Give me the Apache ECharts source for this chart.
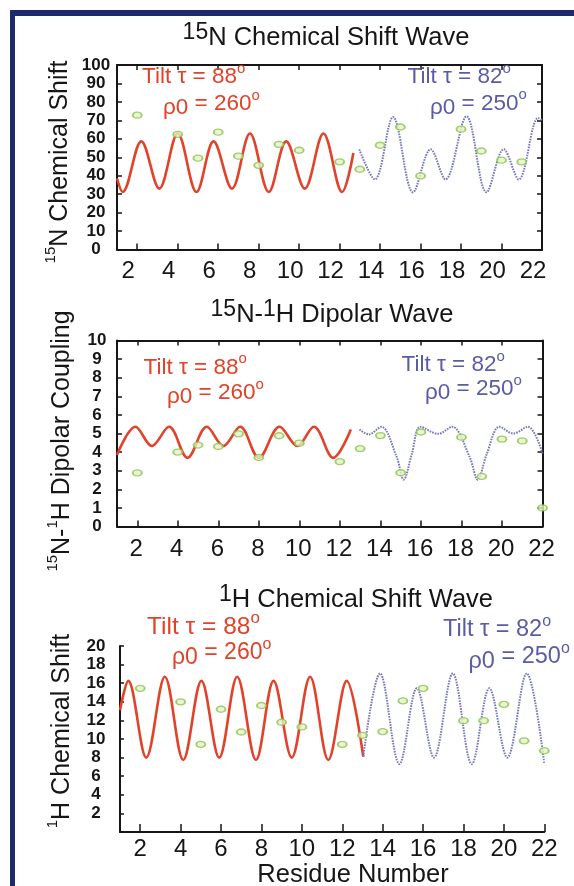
<!DOCTYPE html>
<html><head><meta charset="utf-8">
<script src="https://cdn.jsdelivr.net/npm/echarts@6/dist/echarts.min.js"></script>
<style>html,body{margin:0;padding:0;background:#fff}#c{width:574px;height:886px}</style>
</head><body><div id="c"></div>
<script>
// ---------- data ----------
const residueTicks = [2, 4, 6, 8, 10, 12, 14, 16, 18, 20, 22];
const h1Ticks = [2, 4, 6, 8, 10, 12, 14, 16, 18, 20];

// 15N chemical shift
const n15Observed = [[2,72.8],[4,62.4],[5,49.5],[6,63.6],[7,50.6],[8,45.6],[9,57],[10,53.8],[12,47.5],[13,43.5],[14,56.5],[15,66.4],[16,39.9],[18,65.2],[19,53.4],[20,48.4],[21,47.5]];
const n15WaveTilt88 = [[1,38.6],[1.28,31.2],[2.2,58.6],[3.09,33],[4.0,62.9],[4.93,31.2],[5.77,58.6],[6.68,33],[7.57,62.9],[8.5,31.2],[9.36,58.6],[10.28,33],[11.2,62.9],[12.12,31.2],[12.68,52.3]];
const n15WaveTilt82 = [[12.97,54.3],[13.74,38],[14.64,71.8],[15.63,31],[16.5,54.3],[17.23,38],[18.27,72.2],[19.26,31],[20.11,54.3],[20.85,38],[21.81,71.3],[22,70.2]];

// 15N-1H dipolar coupling
const dcObserved = [[2,2.88],[4,4.0],[5,4.38],[6,4.3],[7,4.98],[8,3.71],[9,4.88],[10,4.48],[12,3.49],[13,4.19],[14,4.89],[15,2.89],[16,5.08],[18,4.8],[19,2.69],[20,4.7],[21,4.6],[22,1.0]];
const dcWaveTilt88 = [[1,3.85],[1.91,5.36],[2.72,4.33],[3.57,5.36],[4.48,3.69],[5.43,5.36],[6.25,4.33],[7.08,5.36],[8.0,3.69],[9.02,5.36],[9.9,4.33],[10.72,5.36],[11.67,3.69],[12.54,5.22]];
const dcWaveTilt82 = [[12.97,5.22],[13.43,4.95],[14.04,5.36],[14.8,3.75],[15.15,2.52],[15.55,3.9],[15.98,5.36],[16.85,4.98],[17.54,5.36],[18.4,3.75],[18.8,2.52],[19.25,3.9],[19.88,5.36],[20.56,5.0],[21.28,5.36],[22,3.92]];

// 1H chemical shift
const h1Observed = [[2,15.45],[4,14.0],[5,9.43],[6,13.2],[7,10.75],[8,13.6],[9,11.8],[10,11.3],[12,9.43],[13,10.4],[14,10.8],[15,14.1],[16,15.45],[18,11.97],[19,11.97],[20,13.73],[21,9.8],[22,8.74]];
const h1WaveTilt88 = [[1,13.1],[1.41,16.25],[2.3,8.0],[3.22,16.7],[4.13,7.75],[5.03,16.25],[5.91,8.0],[6.8,16.7],[7.73,7.75],[8.6,16.25],[9.5,8.0],[10.41,16.7],[11.31,7.75],[12.22,16.25],[13.04,8.1]];
const h1WaveTilt82 = [[13.04,8.1],[13.87,17.05],[14.83,7.3],[15.69,15.45],[16.54,8.0],[17.47,17.05],[18.41,7.3],[19.28,15.45],[20.17,8.0],[21.13,17.05],[22,7.3]];

// ---------- styling ----------
const FONT = "'Liberation Sans', Arial, Helvetica, sans-serif";
const INK = '#161616';
const RED = '#e2412a';
const BLUE_TXT = '#5a5da6';
const BLUE_LINE = '#7678bb';
const GREEN = '#8fc24a';
const GREEN_FILL = '#e4f1cc';

function xAx(grid, pos, opts) {
  return Object.assign({
    gridIndex: grid, type: 'value', min: 1, max: 22, position: pos,
    axisLine: { show: true, onZero: false, lineStyle: { color: INK, width: 2 } },
    axisTick: { show: true, inside: true, length: 6, customValues: residueTicks, lineStyle: { color: INK, width: 1.5 } },
    axisLabel: { show: false },
    splitLine: { show: false }
  }, opts);
}
function yAx(grid, pos, min, max, interval, opts) {
  return Object.assign({
    gridIndex: grid, type: 'value', min: min, max: max, interval: interval, position: pos,
    axisLine: { show: true, onZero: false, lineStyle: { color: INK, width: 2 } },
    axisTick: { show: true, inside: true, length: 5, lineStyle: { color: INK, width: 1.5 } },
    axisLabel: { show: false },
    splitLine: { show: false }
  }, opts);
}
const xLab = (margin, pad) => ({ show: true, customValues: residueTicks, margin: margin, fontSize: 24, color: INK, fontFamily: FONT, padding: pad });
const yLab = (margin) => ({ show: true, margin: margin, align: 'center', fontSize: 17, fontWeight: 'bold', color: INK, fontFamily: FONT });

function wave(xi, yi, data, color, dotted) {
  return {
    type: 'line', xAxisIndex: xi, yAxisIndex: yi, data: data, smooth: 0.35, showSymbol: false, symbol: 'none',
    lineStyle: dotted ? { color: color, width: 2, type: [1.6, 1.1] } : { color: color, width: 2.6 },
    clip: true, z: 2
  };
}
function obs(xi, yi, data) {
  return {
    type: 'scatter', xAxisIndex: xi, yAxisIndex: yi, data: data, symbol: 'circle', symbolSize: [9, 6],
    itemStyle: { color: GREEN_FILL, borderColor: GREEN, borderWidth: 1.6 }, clip: false, z: 3
  };
}

function richSet(size, color) {
  return {
    m: { fontSize: size, lineHeight: size + 9, fontFamily: FONT, fill: color, verticalAlign: 'middle' },
    s: { fontSize: Math.round(size * 0.68), lineHeight: Math.round(size * 0.68), fontFamily: FONT, fill: color, verticalAlign: 'top' },
    d: { fontSize: size, lineHeight: size - 5, fontFamily: FONT, fill: color, verticalAlign: 'bottom' }
  };
}
function txt(x, y, text, size, color, align, rotation, supScale) {
  const r = richSet(size, color);
  if (supScale) { const f = Math.round(size * supScale); r.s.fontSize = f; r.s.lineHeight = f + 4; }
  return {
    type: 'text', x: x, y: y, rotation: rotation || 0, z: 10,
    style: { text: text, align: align, verticalAlign: 'middle', fontSize: size, fontFamily: FONT, fill: color, rich: r }
  };
}

const option = {
  animation: false,
  backgroundColor: '#ffffff',
  grid: [
    { left: 117, top: 65, width: 425, height: 184.5 },
    { left: 117, top: 340.5, width: 425.5, height: 186 },
    { left: 120, top: 646, width: 424.3, height: 186 }
  ],
  xAxis: [
    xAx(0, 'bottom', { axisLabel: xLab(10, [0, 18, 0, 0]) }),
    xAx(0, 'top', { axisTick: { show: true, inside: true, length: 5, customValues: residueTicks, lineStyle: { color: INK, width: 1.5 } } }),
    xAx(1, 'bottom', { axisLabel: xLab(11, [0, 2, 0, 0]) }),
    xAx(1, 'top', { axisTick: { show: true, inside: true, length: 5, customValues: residueTicks, lineStyle: { color: INK, width: 1.5 } } }),
    xAx(2, 'bottom', { axisLabel: xLab(5, [0, 0, 0, 0]), axisTick: { show: true, inside: true, length: 8, customValues: residueTicks, lineStyle: { color: INK, width: 1.5 } } })
  ],
  yAxis: [
    yAx(0, 'left', 0, 100, 10, { axisLabel: yLab(21) }),
    yAx(0, 'right', 0, 100, 10, {}),
    yAx(1, 'left', 0, 10, 1, { axisLabel: yLab(20) }),
    yAx(1, 'right', 0, 10, 1, {}),
    yAx(2, 'left', 0, 20, 2, {
      axisLabel: Object.assign(yLab(24), { customValues: h1Ticks }),
      axisTick: { show: true, inside: true, length: 4, customValues: h1Ticks, lineStyle: { color: INK, width: 1.5 } }
    })
  ],
  series: [
    wave(0, 0, n15WaveTilt88, RED, false),
    wave(0, 0, n15WaveTilt82, BLUE_LINE, true),
    obs(0, 0, n15Observed),
    wave(2, 2, dcWaveTilt88, RED, false),
    wave(2, 2, dcWaveTilt82, BLUE_LINE, true),
    obs(2, 2, dcObserved),
    wave(4, 4, h1WaveTilt88, RED, false),
    wave(4, 4, h1WaveTilt82, BLUE_LINE, true),
    obs(4, 4, h1Observed)
  ],
  graphic: [
    { type: 'rect', shape: { x: 10, y: 10, width: 564, height: 6 }, style: { fill: '#1d2b6c' }, z: 20 },
    { type: 'rect', shape: { x: 10, y: 10, width: 5, height: 876 }, style: { fill: '#1d2b6c' }, z: 20 },
    // titles
    txt(326, 38, '{s|15}{m|N Chemical Shift Wave}', 25.5, INK, 'center', 0, 0.9),
    txt(332, 315, '{s|15}{m|N-}{s|1}{m|H Dipolar Wave}', 25.5, INK, 'center', 0, 0.9),
    txt(356, 600, '{s|1}{m|H Chemical Shift Wave}', 25.5, INK, 'center', 0, 0.9),
    // y axis names
    txt(60, 162, '{s|15}{m|N Chemical Shift}', 25, INK, 'center', Math.PI / 2, 0.6),
    txt(62, 441, '{s|15}{m|N-}{s|1}{m|H Dipolar Coupling}', 25, INK, 'center', Math.PI / 2, 0.6),
    txt(62, 731, '{s|1}{m|H Chemical Shift}', 25, INK, 'center', Math.PI / 2, 0.6),
    // x axis name
    txt(353, 875, '{m|Residue Number}', 25.5, INK, 'center', 0),
    // annotations panel 1
    txt(142, 77, '{m|Tilt τ = 88}{s|o}', 22.5, RED, 'left'),
    txt(163, 104, '{d|ρ0}{m| = 260}{s|o}', 22.5, RED, 'left'),
    txt(407.5, 77, '{m|Tilt τ = 82}{s|o}', 22.5, BLUE_TXT, 'left'),
    txt(430, 103.5, '{d|ρ0}{m| = 250}{s|o}', 22.5, BLUE_TXT, 'left'),
    // annotations panel 2
    txt(143.5, 367.5, '{m|Tilt τ = 88}{s|o}', 22.5, RED, 'left'),
    txt(167, 393, '{d|ρ0}{m| = 260}{s|o}', 22.5, RED, 'left'),
    txt(401.5, 365, '{m|Tilt τ = 82}{s|o}', 22.5, BLUE_TXT, 'left'),
    txt(425, 389, '{d|ρ0}{m| = 250}{s|o}', 22.5, BLUE_TXT, 'left'),
    // annotations panel 3
    txt(147, 627, '{m|Tilt τ = 88}{s|o}', 24.5, RED, 'left'),
    txt(172, 653, '{d|ρ0}{m| = 260}{s|o}', 23, RED, 'left'),
    txt(443, 630, '{m|Tilt τ = 82}{s|o}', 23.5, BLUE_TXT, 'left'),
    txt(468.5, 657, '{d|ρ0}{m| = 250}{s|o}', 23.5, BLUE_TXT, 'left')
  ]
};

const chart = echarts.init(document.getElementById('c'), null, { renderer: 'canvas' });
chart.setOption(option);
</script>
</body></html>
